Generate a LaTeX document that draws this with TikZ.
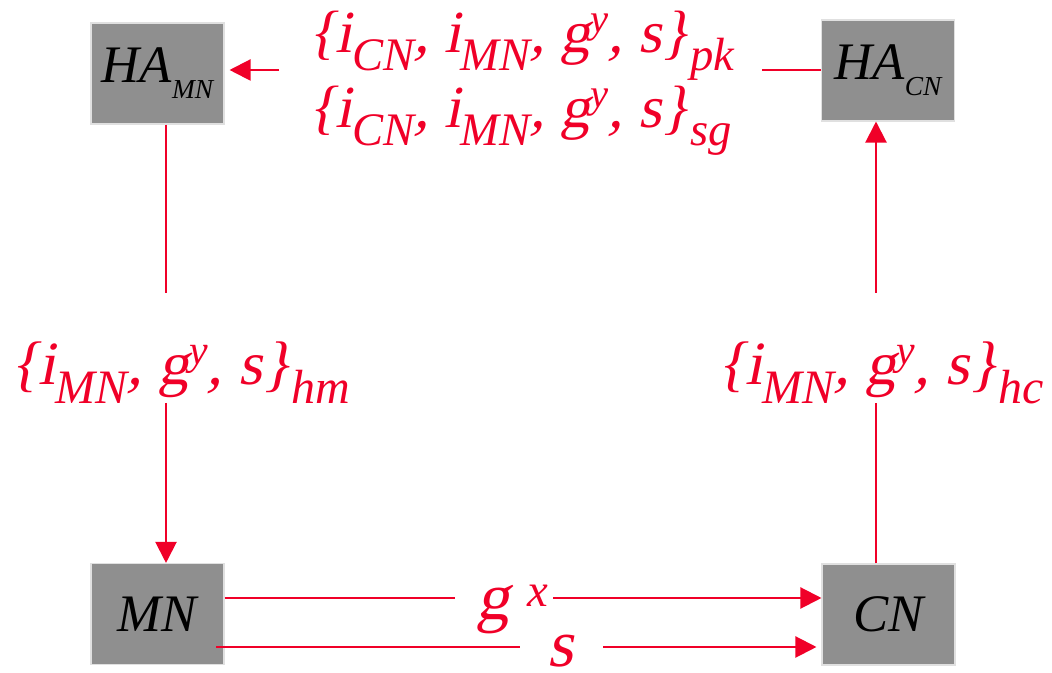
\documentclass[tikz,border=0pt]{standalone}
\usepackage{fontspec}
\setmainfont{Liberation Serif}
\newfontfamily\slfont[FakeSlant=0.2]{Liberation Serif}
\usetikzlibrary{arrows.meta}
\definecolor{msgred}{RGB}{240,0,40}
\definecolor{boxgray}{RGB}{143,143,143}
\newcommand{\dn}[1]{\raisebox{-0.3em}{\scalebox{0.78}{\rmfamily\itshape #1}}}
\newcommand{\hi}[1]{\raisebox{0.34em}{\scalebox{0.68}{\rmfamily\itshape #1}}}
\newcommand{\boxsub}[1]{\raisebox{-0.3em}{\scalebox{0.52}{#1}}}
\begin{document}
\begin{tikzpicture}[>={Triangle[length=12pt,width=12pt]}, line width=1.2pt,
    host/.style={draw=black!12, line width=0.6pt, fill=boxgray, minimum width=2.66cm,
        minimum height=2.02cm, inner sep=0pt, font=\fontsize{30}{36}\selectfont\itshape},
    msg/.style={text=msgred, inner sep=0pt, anchor=base west, font=\fontsize{34}{40}\selectfont\slfont},
    wire/.style={draw=msgred}]
    \useasboundingbox (0,0) rectangle (21.04,13.46);

    % Hosts
    \node[host] (hamn) at (3.15,11.99) {HA\boxsub{MN}};
    \node[host] (hacn) at (17.76,12.05) {HA\boxsub{CN}};
    \node[host] (mn) at (3.15,1.18) {MN};
    \node[host] (cn) at (17.77,1.17) {CN};

    % Messages
    \node[msg] (pk) at (6.12,12.4) {\{i\dn{CN}, i\dn{MN}, g\hi{y}, s\}\dn{pk}};
    \node[msg] (sg) at (6.12,10.9) {\{i\dn{CN}, i\dn{MN}, g\hi{y}, s\}\dn{sg}};
    \node[msg, font=\fontsize{35}{40}\selectfont\slfont] (hm) at (0.16,5.76) {\{i\dn{MN}, g\hi{y}, s\}\dn{hm}};
    \node[msg, font=\fontsize{35}{40}\selectfont\slfont] (hc) at (14.3,5.76) {\{i\dn{MN}, g\hi{y}, s\}\dn{hc}};
    \node[msg, font=\fontsize{38}{44}\selectfont\slfont] (gx) at (9.5,1.06) {g\;\raisebox{0.2em}{\scalebox{0.7}{\rmfamily\itshape x}}};
    \node[msg, font=\fontsize{38}{44}\selectfont\slfont] (ss) at (10.92,0.13) {s};

    % Gaps in the wires
    \coordinate (pkin) at (5.58,12.06);
    \coordinate (pkout) at (15.24,12.06);
    \coordinate (hmtop) at (3.32,7.6);
    \coordinate (hmbot) at (3.32,5.4);
    \coordinate (hctop) at (17.52,7.6);
    \coordinate (hcbot) at (17.52,5.4);
    \coordinate (gxin) at (9.1,1.5);
    \coordinate (gxout) at (11.06,1.5);
    \coordinate (sstart) at (4.32,0.52);
    \coordinate (sin) at (9.1,0.52);
    \coordinate (sthin) at (10.4,0.52);
    \coordinate (sout) at (12.06,0.52);

    % HA_CN to HA_MN
    \draw[wire] (hacn.west |- pkout) -- (pkout);
    \draw[wire,->,shorten >=0.1cm] (pkin) -- (pkin -| hamn.east);

    % HA_MN to MN
    \draw[wire] (hamn.south -| hmtop) -- (hmtop);
    \draw[wire,->] (hmbot) -- (hmbot |- mn.north);

    % CN to HA_CN
    \draw[wire] (cn.north -| hcbot) -- (hcbot);
    \draw[wire,->] (hctop) -- (hctop |- hacn.south);

    % MN to CN
    \draw[wire] (mn.east |- gxin) -- (gxin);
    \draw[wire,->] (gxout) -- (gxout -| cn.west);
    \draw[wire] (sstart) -- (sin);
    \draw[wire, line width=0.6pt] (sin) -- (sthin);
    \draw[wire,->,shorten >=0.1cm] (sout) -- (sout -| cn.west);
\end{tikzpicture}
\end{document}
